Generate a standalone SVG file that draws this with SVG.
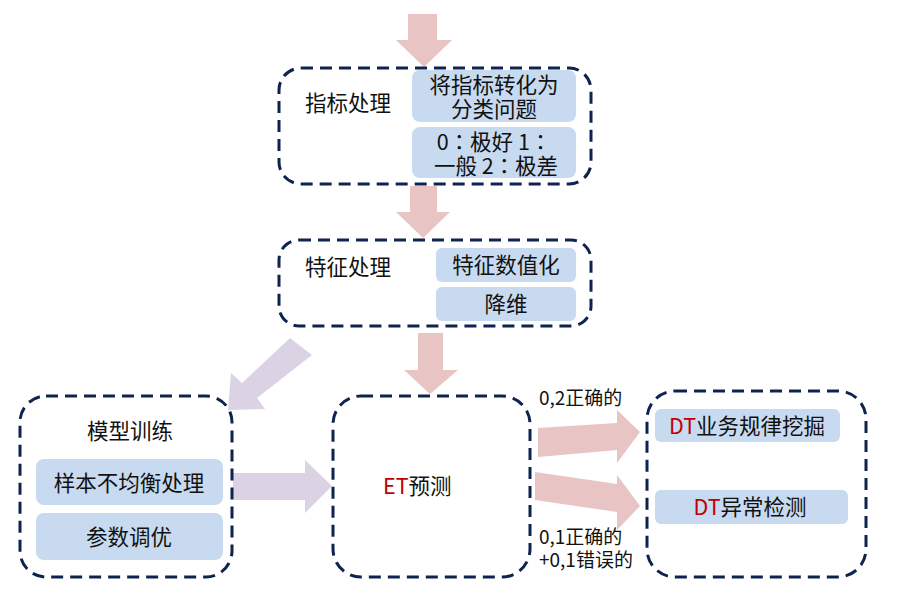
<svg xmlns="http://www.w3.org/2000/svg" width="898" height="603" viewBox="0 0 898 603">
<style>
.box{fill:none;stroke:#0f2350;stroke-width:3;stroke-dasharray:12 7}
.inner{fill:#c8daf0}
.pink{fill:#e8c4c4}
.purple{fill:#dbd2e4}
text{font-family:"Noto Sans CJK SC","Microsoft YaHei",sans-serif;fill:#111}
.t{font-size:21.5px}
.s{font-size:19px}
.red{fill:#c00000}
.c{font-family:"Noto Sans CJK TC",sans-serif}
</style>
<rect width="898" height="603" fill="#fff"/>
<g id="connectors">
<polygon class="pink" points="408,14 437,14 437,40 452,40 424,67 396,40 408,40"/>
<polygon class="pink" points="410,186 437,186 437,212 450,212 423,238 396,212 410,212"/>
<polygon class="pink" points="418,333 443,333 443,370 458,370 430,394 404,370 418,370"/>
<polygon class="purple" points="290,338 312,355 257,398 265,409 228,410 231,373 242,383"/>
<polygon class="purple" points="233,473 305,473 305,460 332,486 305,513 305,500 233,500"/>
<polygon class="pink" points="538,428 617,423 617,410 640,432 617,463 617,450 538,457"/>
<polygon class="pink" points="535,472 617,484 617,475 640,506 617,530 617,512 535,500"/>
</g>
<g id="node-indicator">
<rect class="box" x="279" y="68" width="312" height="116" rx="22"/>
<text class="t" x="305" y="111">指标处理</text>
<rect class="inner" x="412" y="70" width="164" height="52" rx="8"/>
<text class="t" x="494" y="93" text-anchor="middle">将指标转化为</text>
<text class="t" x="494" y="117" text-anchor="middle">分类问题</text>
<rect class="inner" x="412" y="127" width="164" height="51" rx="8"/>
<text class="t c" x="494" y="150" text-anchor="middle">0：极好 1：</text>
<text class="t c" x="496" y="174" text-anchor="middle">一般 2：极差</text>
</g>
<g id="node-feature">
<rect class="box" x="279" y="240" width="312" height="86" rx="20"/>
<text class="t" x="305" y="275">特征处理</text>
<rect class="inner" x="436" y="248" width="140" height="34" rx="6"/>
<text class="t" x="506" y="273" text-anchor="middle">特征数值化</text>
<rect class="inner" x="436" y="287" width="140" height="34" rx="6"/>
<text class="t" x="506" y="312" text-anchor="middle">降维</text>
</g>
<g id="node-train">
<rect class="box" x="20" y="396" width="212" height="181" rx="26"/>
<text class="t" x="130" y="439" text-anchor="middle">模型训练</text>
<rect class="inner" x="36" y="459" width="187" height="46" rx="8"/>
<text class="t" x="129" y="491" text-anchor="middle">样本不均衡处理</text>
<rect class="inner" x="36" y="513" width="187" height="47" rx="8"/>
<text class="t" x="129" y="545" text-anchor="middle">参数调优</text>
</g>
<g id="node-et">
<rect class="box" x="333" y="396" width="197" height="181" rx="28"/>
<text class="t" x="383" y="494"><tspan class="red">ET</tspan>预测</text>
</g>
<g id="labels">
<text class="s" x="539" y="405">0,2正确的</text>
<text class="s" x="539" y="544">0,1正确的</text>
<text class="s" x="539" y="567">+0,1错误的</text>
</g>
<g id="node-dt">
<rect class="box" x="647" y="391" width="219" height="186" rx="28"/>
<rect class="inner" x="655" y="409" width="185" height="33" rx="6"/>
<text class="t" x="747" y="434" text-anchor="middle"><tspan class="red">DT</tspan>业务规律挖掘</text>
<rect class="inner" x="655" y="490" width="193" height="34" rx="6"/>
<text class="t" x="750" y="515" text-anchor="middle"><tspan class="red">DT</tspan>异常检测</text>
</g>
</svg>
